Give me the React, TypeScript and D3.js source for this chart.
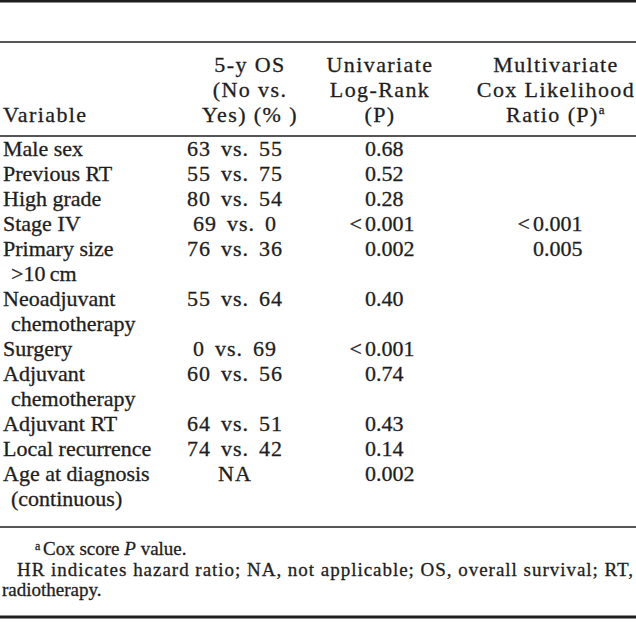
import React from "react";
import * as d3 from "d3";

const variables: string[][] = [
  ["Male sex"],
  ["Previous RT"],
  ["High grade"],
  ["Stage IV"],
  ["Primary size", ">10\u2009cm"],
  ["Neoadjuvant", "chemotherapy"],
  ["Surgery"],
  ["Adjuvant", "chemotherapy"],
  ["Adjuvant RT"],
  ["Local recurrence"],
  ["Age at diagnosis", "(continuous)"],
];
const osNoVsYes = ["63 vs. 55", "55 vs. 75", "80 vs. 54", "69 vs. 0", "76 vs. 36", "55 vs. 64", "0 vs. 69", "60 vs. 56", "64 vs. 51", "74 vs. 42", "NA"];
const univariateP = ["0.68", "0.52", "0.28", "<0.001", "0.002", "0.40", "<0.001", "0.74", "0.43", "0.14", "0.002"];
const multivariateP = ["", "", "", "<0.001", "0.005", "", "", "", "", "", ""];

const headerVariable = ["", "", "Variable"];
const headerOS = ["5-y OS", "(No vs.", "Yes) (% )"];
const headerUni = ["Univariate", "Log-Rank", "(P)"];
const headerMulti = ["Multivariate", "Cox Likelihood", "Ratio (P)"];
const headerMultiSup = "a";

const footSup = "a";
const footLine1 = ["Cox score ", "P", " value."];
const footLine2 = "HR indicates hazard ratio; NA, not applicable; OS, overall survival; RT,";
const footLine3 = "radiotherapy.";

const W = 636;
const H = 623;
const INK = "#1e1e1e";
const FONT = "'Liberation Serif', 'Times New Roman', serif";

export default function App() {
  const y = d3.scaleLinear().domain([0, 1]).range([156, 181]);
  const hy = d3.scaleLinear().domain([0, 2]).range([71.5, 121.5]);
  const colX = d3
    .scaleOrdinal<string, number>()
    .domain(["var", "varIndent", "os", "osHead", "uni", "uniHead", "multi", "multiHead"])
    .range([3, 11, 235, 250, 365, 380, 533, 556]);

  const starts: number[] = [];
  let acc = 0;
  variables.forEach((v) => {
    starts.push(acc);
    acc += v.length;
  });

  const renderP = (val: string, x: number, yy: number, key: string) => {
    if (!val) return null;
    const lt = val.startsWith("<");
    const num = lt ? val.slice(1) : val;
    return (
      <g key={key}>
        {lt && (
          <text x={x - 3} y={yy} textAnchor="end">
            {"<"}
          </text>
        )}
        <text x={x} y={yy}>
          {num}
        </text>
      </g>
    );
  };

  return (
    <svg
      width={W}
      height={H}
      viewBox={`0 0 ${W} ${H}`}
      style={{ position: "absolute", left: 0, top: 0, background: "#fff" }}
      fontFamily={FONT}
      fill={INK}
    >
      <rect x={0} y={0} width={W} height={H} fill="#fff" />
      <line x1={0} x2={W} y1={1.3} y2={1.3} stroke={INK} strokeWidth={2.6} />
      <line x1={0} x2={W} y1={42} y2={42} stroke={INK} strokeWidth={1.4} />
      <line x1={0} x2={W} y1={136} y2={136} stroke={INK} strokeWidth={1.4} />
      <line x1={0} x2={W} y1={527} y2={527} stroke={INK} strokeWidth={1.4} />
      <line x1={0} x2={W} y1={617} y2={617} stroke={INK} strokeWidth={3} />

      <g stroke={INK} strokeWidth={0.3}>
        <g fontSize={22} letterSpacing={1.4}>
          {headerVariable.map((t, i) =>
            t ? (
              <text key={"hv" + i} x={colX("var")} y={hy(i)}>
                {t}
              </text>
            ) : null
          )}
          {headerOS.map((t, i) => (
            <text key={"ho" + i} x={colX("osHead")} y={hy(i)} textAnchor="middle">
              {t}
            </text>
          ))}
          {headerUni.map((t, i) => (
            <text key={"hu" + i} x={colX("uniHead")} y={hy(i)} textAnchor="middle">
              {t}
            </text>
          ))}
          {headerMulti.map((t, i) => (
            <text key={"hm" + i} x={colX("multiHead")} y={hy(i)} textAnchor="middle">
              {t}
              {i === headerMulti.length - 1 && (
                <tspan fontSize={13} dy={-8}>
                  {headerMultiSup}
                </tspan>
              )}
            </text>
          ))}
        </g>

        <g fontSize={22}>
          {variables.map((lines, r) =>
            lines.map((t, j) => (
              <text
                key={"v" + r + "-" + j}
                x={j === 0 ? colX("var") : colX("varIndent")}
                y={y(starts[r] + j)}
              >
                {t}
              </text>
            ))
          )}
          {osNoVsYes.map((t, r) => (
            <text
              key={"os" + r}
              x={colX("os")}
              y={y(starts[r])}
              textAnchor="middle"
              letterSpacing={1}
              wordSpacing={3.5}
            >
              {t}
            </text>
          ))}
          {univariateP.map((t, r) => renderP(t, colX("uni"), y(starts[r]), "u" + r))}
          {multivariateP.map((t, r) => renderP(t, colX("multi"), y(starts[r]), "m" + r))}
        </g>

        <g fontSize={19}>
          <text x={35} y={550} fontSize={12}>
            {footSup}
          </text>
          <text x={43} y={555}>
            {footLine1[0]}
            <tspan fontStyle="italic">{footLine1[1]}</tspan>
            {footLine1[2]}
          </text>
          <text x={17} y={575.5} textLength={616} lengthAdjust="spacing">
            {footLine2}
          </text>
          <text x={2} y={596}>
            {footLine3}
          </text>
        </g>
      </g>
    </svg>
  );
}
